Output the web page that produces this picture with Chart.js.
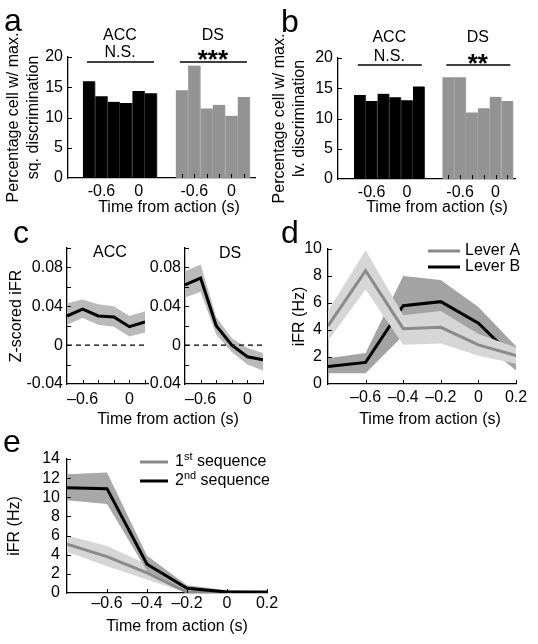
<!DOCTYPE html>
<html>
<head>
<meta charset="utf-8">
<title>Action-related activity in ACC and DS</title>
<script src="https://cdn.jsdelivr.net/npm/chart.js@4.4.1/dist/chart.umd.min.js"></script>
<style>
  html, body { margin: 0; padding: 0; background: #fff; }
  #figure { position: relative; width: 538px; height: 644px; overflow: hidden; }
  #figure canvas { position: absolute; left: 0; top: 0; }
</style>
</head>
<body>
<div id="figure">
  <canvas id="chartA" width="538" height="644"></canvas>
  <canvas id="chartB" width="538" height="644"></canvas>
  <canvas id="chartCacc" width="538" height="644"></canvas>
  <canvas id="chartCds" width="538" height="644"></canvas>
  <canvas id="chartD" width="538" height="644"></canvas>
  <canvas id="chartE" width="538" height="644"></canvas>
</div>
<script>
// ---- values ----
const timeBins = [-0.8, -0.6, -0.4, -0.2, 0, 0.2];   // s from action
const barTickLabels = [-0.6, 0];
const cTimeLabels = [-0.6, 0];
const timeLabels = [-0.6, -0.4, -0.2, 0, 0.2];
const pctTicks = [0, 5, 10, 15, 20];
const zTickLabels = [-0.04, 0, 0.04, 0.08];
const zRange = [-0.04, 0.1];
const leverHzTicks = [0, 2, 4, 6, 8, 10];
const seqHzTicks = [0, 2, 4, 6, 8, 10, 12, 14];

// a: % cells w/ max. sequence discrimination
const seqAcc = [16.0, 13.5, 12.6, 12.4, 14.4, 14.0];
const seqDs  = [14.5, 18.6, 11.5, 12.1, 10.3, 13.4];
// b: % cells w/ max. lever discrimination
const levAcc = [13.9, 12.9, 14.1, 13.5, 13.0, 15.3];
const levDs  = [16.8, 16.8, 11.0, 11.7, 13.6, 12.9];

// c: z-scored iFR (mean, band top, band bottom)
const zAcc   = [0.030, 0.037, 0.030, 0.029, 0.019, 0.024];
const zAccHi = [0.043, 0.047, 0.042, 0.040, 0.030, 0.035];
const zAccLo = [0.021, 0.028, 0.021, 0.019, 0.009, 0.013];
const zDs    = [0.062, 0.069, 0.020, 0.000, -0.012, -0.015];
const zDsHi  = [0.076, 0.083, 0.029, 0.007, -0.003, -0.008];
const zDsLo  = [0.049, 0.055, 0.011, -0.007, -0.020, -0.026];

// d: iFR (Hz) per lever
const leverA   = [4.3, 8.4, 4.1, 4.2, 2.9, 2.1];
const leverAHi = [5.4, 9.9, 5.1, 5.4, 3.7, 2.7];
const leverALo = [3.2, 7.0, 2.9, 3.0, 2.1, 1.5];
const leverB   = [1.3, 1.6, 5.8, 6.1, 4.5, 1.8];
const leverBHi = [1.9, 2.3, 8.0, 7.7, 5.7, 2.8];
const leverBLo = [0.8, 0.8, 3.6, 4.5, 3.3, 1.0];

// e: iFR (Hz) per sequence
const seq1   = [5.1, 3.8, 2.1, 0.1, 0.0, 0.0];
const seq1Hi = [6.0, 4.9, 3.0, 0.5, 0.15, 0.1];
const seq1Lo = [4.3, 2.8, 1.4, 0.0, 0.0, 0.0];
const seq2   = [11.0, 10.9, 3.0, 0.5, 0.1, 0.1];
const seq2Hi = [12.4, 12.6, 3.9, 0.8, 0.3, 0.15];
const seq2Lo = [9.7, 9.3, 2.3, 0.3, 0.0, 0.0];

// ---- look ----
const FONT = '"Liberation Sans", Arial, Helvetica, sans-serif';
Chart.defaults.font.family = FONT;
Chart.defaults.font.size = 16;
Chart.defaults.color = '#000';
Chart.defaults.animation = false;
Chart.defaults.responsive = false;
Chart.defaults.plugins.legend.display = false;
Chart.defaults.plugins.tooltip.enabled = false;
Chart.defaults.elements.point.radius = 0;
Chart.defaults.elements.line.tension = 0;

const W = 538, H = 644, LH = 16 * 1.2;
const groupShift = 1.5;   // DS bars sit after the ACC bars on the same axis
const last = a => a[a.length - 1];
const near = (v, list) => list.some(u => Math.abs(u - v) < 1e-6);
const fmt = (v, dash) => {
  const r = Math.round(v * 100) / 100;
  return r < 0 ? dash + String(-r) : String(r);
};

// pin the scale boxes so every plot area lands where it is in the figure
function frame(area, yTitleX) {
  const yw = yTitleX ? area.l - (yTitleX - LH / 2) : 45;
  const xh = 30;
  return { yw, xh, padding: { left: area.l - yw, top: area.t, right: W - area.r, bottom: H - area.b - xh } };
}

function xAxis(f, min, max, ticks, more) {
  return Object.assign({
    type: 'linear', min, max, offset: false,
    grid: { display: false, drawTicks: false, offset: false },
    border: { color: '#000', width: 1.3 },
    ticks: Object.assign({ autoSkip: false, maxRotation: 0, minRotation: 0, padding: 4 }, ticks),
    afterFit: s => { s.height = f.xh; s.paddingLeft = 0; s.paddingRight = 0; }
  }, more);
}

function yAxis(f, min, max, ticks, title) {
  return {
    type: 'linear', min, max,
    grid: { display: false, drawTicks: false },
    border: { color: '#000', width: 1.3 },
    ticks: Object.assign({ autoSkip: false, padding: 5 }, ticks),
    title: title ? { display: true, text: title, padding: 0 } : { display: false },
    afterFit: s => { s.width = f.yw; s.paddingTop = 0; s.paddingBottom = 0; }
  };
}

// small ticks pointing into the plot
function inTicks(xs, ys) {
  return { id: 'inTicks', afterDraw(chart) {
    const ctx = chart.ctx, sx = chart.scales.x, sy = chart.scales.y;
    ctx.save();
    ctx.strokeStyle = '#000';
    ctx.lineWidth = 1;
    xs.forEach(v => {
      const px = Math.round(sx.getPixelForValue(v)) + 0.5;
      ctx.beginPath(); ctx.moveTo(px, sx.top); ctx.lineTo(px, sx.top - 4); ctx.stroke();
    });
    ys.forEach(v => {
      const py = Math.round(sy.getPixelForValue(v)) + 0.5;
      ctx.beginPath(); ctx.moveTo(sy.right, py); ctx.lineTo(sy.right + 4, py); ctx.stroke();
    });
    ctx.restore();
  }};
}

// free text: panel letters and shared axis titles
function notes(items) {
  return { id: 'notes', afterDraw(chart) {
    const ctx = chart.ctx;
    items.forEach(it => {
      ctx.save();
      ctx.fillStyle = '#000';
      ctx.font = it.font || '16px ' + FONT;
      ctx.textAlign = it.align || 'center';
      ctx.textBaseline = it.baseline || 'middle';
      ctx.fillText(it.text, it.x, it.y);
      ctx.restore();
    });
  }};
}

// group name, significance and bar over each group of bars
function groupMarks(groups, yName, ySig, yLine) {
  return { id: 'groupMarks', afterDraw(chart) {
    const ctx = chart.ctx, sx = chart.scales.x;
    groups.forEach(g => {
      const x0 = sx.getPixelForValue(g.from), x1 = sx.getPixelForValue(g.to);
      const cx = (x0 + x1) / 2;
      ctx.save();
      ctx.fillStyle = '#000';
      ctx.strokeStyle = '#000';
      ctx.textAlign = 'center';
      ctx.textBaseline = 'middle';
      ctx.font = '16px ' + FONT;
      ctx.fillText(g.name, cx, yName);
      if (g.stars) {
        ctx.font = 'bold 26px ' + FONT;
        ctx.textBaseline = 'alphabetic';
        ctx.fillText(g.sig, cx, ySig + 15);
      } else {
        ctx.fillText(g.sig, cx, ySig);
      }
      ctx.lineWidth = 1.3;
      ctx.beginPath(); ctx.moveTo(x0 - 2, yLine); ctx.lineTo(x1 + 3, yLine); ctx.stroke();
      ctx.restore();
    });
  }};
}

// line legend with optional superscripts
function lineKey(rows, x0, x1, tx) {
  return { id: 'lineKey', afterDraw(chart) {
    const ctx = chart.ctx;
    rows.forEach(r => {
      const ds = chart.data.datasets[r.ds];
      ctx.save();
      ctx.strokeStyle = ds.borderColor;
      ctx.lineWidth = ds.borderWidth;
      ctx.beginPath(); ctx.moveTo(x0, r.y); ctx.lineTo(x1, r.y); ctx.stroke();
      ctx.fillStyle = '#000';
      ctx.textAlign = 'left';
      ctx.textBaseline = 'middle';
      let x = tx;
      (r.parts || [{ t: ds.label }]).forEach(p => {
        ctx.font = (p.sup ? 11 : 16) + 'px ' + FONT;
        ctx.fillText(p.t, x, p.sup ? r.y - 5 : r.y);
        x += ctx.measureText(p.t).width;
      });
      ctx.restore();
    });
  }};
}

function barPanel(id, accVals, dsVals, area, yTitleX, yTitle, letter, marks, sig, xTitleX) {
  const f = frame(area, yTitleX);
  const accData = timeBins.map((t, i) => ({ x: t, y: accVals[i] }));
  const dsData = timeBins.map((t, i) => ({ x: t + groupShift, y: dsVals[i] }));
  const bar = { barPercentage: 1, categoryPercentage: 1, grouped: false, borderWidth: { right: 1 } };
  new Chart(document.getElementById(id), {
    type: 'bar',
    data: { datasets: [
      Object.assign({ label: 'ACC', data: accData, backgroundColor: '#000', borderColor: '#3a3a3a' }, bar),
      Object.assign({ label: 'DS', data: dsData, backgroundColor: '#939393', borderColor: '#a3a3a3' }, bar)
    ]},
    options: {
      layout: { padding: f.padding },
      scales: {
        x: xAxis(f, area.xmin, area.xmax, {
          callback: v => fmt(v > timeBins[0] + groupShift - 0.1 ? v - groupShift : v, '-')
        }, {
          afterBuildTicks: s => {
            s.ticks = barTickLabels.concat(barTickLabels.map(v => v + groupShift)).map(v => ({ value: v }));
          }
        }),
        y: yAxis(f, pctTicks[0], last(pctTicks), { stepSize: pctTicks[1] - pctTicks[0] }, yTitle)
      }
    },
    plugins: [
      inTicks(timeBins.concat(timeBins.map(t => t + groupShift)), pctTicks.slice(1)),
      groupMarks([
        { name: 'ACC', sig: 'N.S.', from: timeBins[0], to: last(timeBins) },
        { name: 'DS', sig: sig, stars: true, from: timeBins[0] + groupShift, to: last(timeBins) + groupShift }
      ], marks.name, marks.sig, marks.line),
      notes([
        { text: letter.t, x: letter.x, y: letter.y, font: '32px ' + FONT, align: 'left', baseline: 'alphabetic' },
        { text: 'Time from action (s)', x: xTitleX, y: 208 }
      ])
    ]
  });
}

function bandSets(mean, hi, lo, lineColor, bandColor, label) {
  const pts = arr => timeBins.map((t, i) => ({ x: t, y: arr[i] }));
  return [
    { label, data: pts(mean), borderColor: lineColor, borderWidth: 3, fill: false },
    { data: pts(hi), borderWidth: 0, borderColor: 'transparent', backgroundColor: bandColor, fill: '+1' },
    { data: pts(lo), borderWidth: 0, borderColor: 'transparent', fill: false }
  ];
}

function linePanel(p) {
  const f = frame(p.area, p.yTitleX);
  return new Chart(document.getElementById(p.id), {
    type: 'line',
    data: { datasets: p.datasets },
    options: {
      layout: { padding: f.padding },
      scales: {
        x: xAxis(f, timeBins[0], last(timeBins), {
          stepSize: 0.2, padding: p.xPad,
          callback: v => near(v, p.xLabels) ? fmt(v, '\u2013') : ''
        }),
        y: yAxis(f, p.yMin, p.yMax, {
          stepSize: p.yStep, padding: p.yPad,
          callback: v => near(v, p.yLabels) ? fmt(v, '-') : ''
        }, p.yTitle)
      }
    },
    plugins: [inTicks(p.inX, p.inY)].concat(p.plugins || [])
  });
}

// ---- a ----
barPanel('chartA', seqAcc, seqDs, { l: 68, t: 57, r: 255, b: 178, xmin: -1.14, xmax: 1.88 },
  14, ['Percentage cell w/ max.', 'sq. discrimination'],
  { t: 'a', x: 4, y: 31 }, { name: 36, sig: 53, line: 62 }, '***', 169);

// ---- b ----
barPanel('chartB', levAcc, levDs, { l: 338, t: 58, r: 515, b: 179, xmin: -1.17, xmax: 1.83 },
  280, ['Percentage cell w/ max.', 'lv. discrimination'],
  { t: 'b', x: 281, y: 32 }, { name: 38, sig: 57, line: 65 }, '**', 437);

// ---- c ----
const zeroLine = () => ({
  data: [{ x: timeBins[0], y: 0 }, { x: last(timeBins), y: 0 }],
  borderColor: '#000', borderWidth: 1.2, borderDash: [5, 4], fill: false
});
const cTicksIn = [-0.02, 0, 0.02, 0.04, 0.06, 0.08, 0.1];

linePanel({
  id: 'chartCacc', area: { l: 67, t: 248, r: 145, b: 384 }, yTitleX: 17, yTitle: 'Z-scored iFR',
  yMin: zRange[0], yMax: zRange[1], yStep: 0.02, yLabels: zTickLabels, xLabels: cTimeLabels,
  xPad: 6, yPad: 4, inX: timeBins.slice(1), inY: cTicksIn,
  datasets: (() => { const s = bandSets(zAcc, zAccHi, zAccLo, '#000', '#bababa', 'ACC'); return [s[0], zeroLine(), s[1], s[2]]; })(),
  plugins: [notes([
    { text: 'c', x: 13, y: 243, font: '32px ' + FONT, align: 'left', baseline: 'alphabetic' },
    { text: 'ACC', x: 110, y: 253 }
  ])]
});

linePanel({
  id: 'chartCds', area: { l: 185, t: 248, r: 263, b: 384 }, yTitleX: 0, yTitle: null,
  yMin: zRange[0], yMax: zRange[1], yStep: 0.02, yLabels: zTickLabels, xLabels: cTimeLabels,
  xPad: 6, yPad: 4, inX: timeBins.slice(1), inY: cTicksIn,
  datasets: (() => { const s = bandSets(zDs, zDsHi, zDsLo, '#000', '#bababa', 'DS'); return [s[0], zeroLine(), s[1], s[2]]; })(),
  plugins: [notes([
    { text: 'DS', x: 230, y: 254 },
    { text: 'Time from action (s)', x: 168, y: 420 }
  ])]
});

// ---- d ----
linePanel({
  id: 'chartD', area: { l: 328, t: 249, r: 516, b: 384 }, yTitleX: 300, yTitle: 'iFR (Hz)',
  yMin: leverHzTicks[0], yMax: last(leverHzTicks), yStep: 2, yLabels: leverHzTicks, xLabels: timeLabels,
  xPad: 4, yPad: 6, inX: timeLabels, inY: leverHzTicks.slice(1),
  datasets: bandSets(leverA, leverAHi, leverALo, '#8a8a8a', '#d6d6d6', 'Lever A')
    .concat(bandSets(leverB, leverBHi, leverBLo, '#000', '#a3a3a3', 'Lever B')),
  plugins: [
    lineKey([{ ds: 0, y: 251 }, { ds: 3, y: 267 }], 428, 460, 465),
    notes([
      { text: 'd', x: 281, y: 243, font: '32px ' + FONT, align: 'left', baseline: 'alphabetic' },
      { text: 'Time from action (s)', x: 430, y: 420 }
    ])
  ]
});

// ---- e ----
const eSets1 = bandSets(seq1, seq1Hi, seq1Lo, '#8a8a8a', '#d6d6d6', '1st sequence');
const eSets2 = bandSets(seq2, seq2Hi, seq2Lo, '#000', '#a8a8a8', '2nd sequence');
linePanel({
  id: 'chartE', area: { l: 67, t: 459, r: 267, b: 593 }, yTitleX: 15, yTitle: 'iFR (Hz)',
  yMin: seqHzTicks[0], yMax: last(seqHzTicks), yStep: 2, yLabels: seqHzTicks, xLabels: timeLabels,
  xPad: 1, yPad: 7, inX: timeLabels, inY: seqHzTicks.slice(1),
  datasets: [eSets2[0], eSets1[0], eSets2[1], eSets2[2], eSets1[1], eSets1[2]],
  plugins: [
    lineKey([
      { ds: 1, y: 462, parts: [{ t: '1' }, { t: 'st', sup: true }, { t: ' sequence' }] },
      { ds: 0, y: 481, parts: [{ t: '2' }, { t: 'nd', sup: true }, { t: ' sequence' }] }
    ], 140, 168, 175),
    notes([
      { text: 'e', x: 3, y: 452, font: '32px ' + FONT, align: 'left', baseline: 'alphabetic' },
      { text: 'Time from action (s)', x: 177, y: 627 }
    ])
  ]
});
</script>
</body>
</html>
